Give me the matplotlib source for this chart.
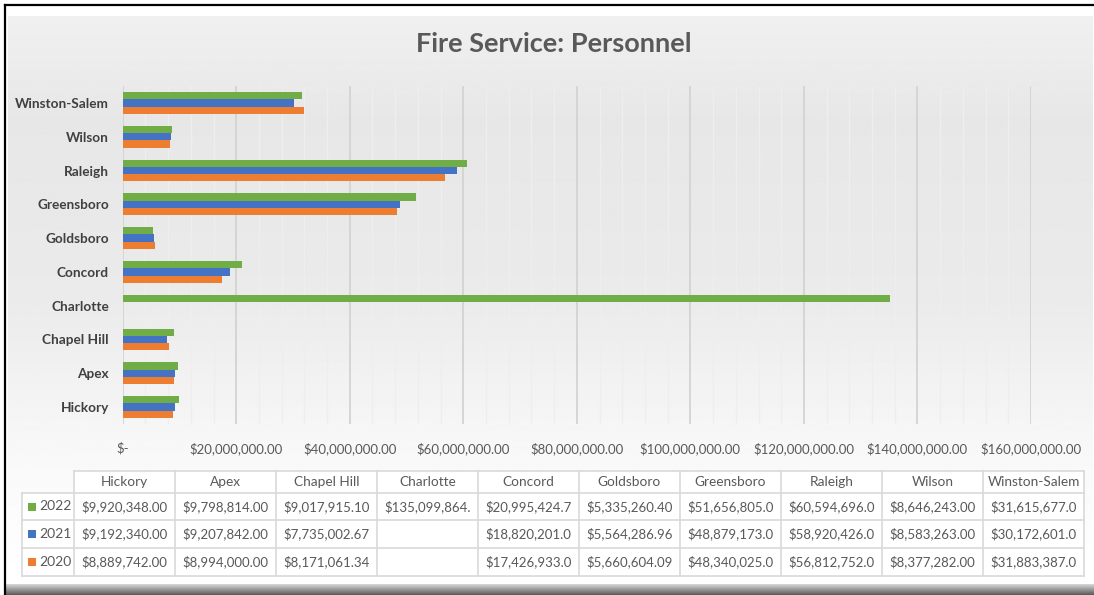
import matplotlib
matplotlib.use("Agg")
import matplotlib.pyplot as plt
import numpy as np
from matplotlib.ticker import MultipleLocator, FuncFormatter
from matplotlib.patches import Rectangle

plt.rcParams["font.family"] = ["Lato", "DejaVu Sans"]

# ====== Data ======
cities = ["Hickory", "Apex", "Chapel Hill", "Charlotte", "Concord",
          "Goldsboro", "Greensboro", "Raleigh", "Wilson", "Winston-Salem"]
years = ["2022", "2021", "2020"]
v2022 = [9920348.00, 9798814.00, 9017915.10, 135099864.00, 20995424.7,
         5335260.40, 51656805.0, 60594696.0, 8646243.00, 31615677.0]
v2021 = [9192340.00, 9207842.00, 7735002.67, None, 18820201.0,
         5564286.96, 48879173.0, 58920426.0, 8583263.00, 30172601.0]
v2020 = [8889742.00, 8994000.00, 8171061.34, None, 17426933.0,
         5660604.09, 48340025.0, 56812752.0, 8377282.00, 31883387.0]
colors = {"2022": "#70AD47", "2021": "#4472C4", "2020": "#ED7D31"}
series = {"2022": v2022, "2021": v2021, "2020": v2020}

W, H = 1094, 595
fig = plt.figure(figsize=(W / 100, H / 100), dpi=100)
fig.patch.set_facecolor("white")

# background layer in pixel coordinates
bg = fig.add_axes([0, 0, 1, 1])
bg.set_xlim(0, W)
bg.set_ylim(H, 0)
bg.axis("off")

# chart area gradient
stops_y = [16, 120, 300, 460, 583]
stops_c = [0.94, 0.905, 0.92, 0.975, 1.0]
ys = np.linspace(16, 583, 300)
grad = np.interp(ys, stops_y, stops_c)[:, None] * np.ones((1, 2))
bg.imshow(grad, cmap="gray", vmin=0, vmax=1, extent=(8, 1093, 583, 16),
          aspect="auto", zorder=0)
# bottom bevel
bev = np.linspace(0.85, 0.35, 40)[:, None] * np.ones((1, 2))
bg.imshow(bev, cmap="gray", vmin=0, vmax=1, extent=(6, 1094, 595, 584),
          aspect="auto", zorder=0)
# frame lines
bg.plot([5, 1094], [5, 5], color="black", lw=1.6, zorder=1)
bg.plot([5, 5], [5, 595], color="black", lw=1.6, zorder=1)

bg.text(554, 44, "Fire Service: Personnel", ha="center", va="center",
        fontsize=19.5, fontweight="bold", color="#595959")

# ====== Bar chart ======
x0, x1, y0, y1 = 122.7, 1031, 86, 424
ax = fig.add_axes([x0 / W, 1 - y1 / H, (x1 - x0) / W, (y1 - y0) / H])
ax.set_facecolor("none")
pos = np.arange(len(cities))
h = 0.215
offsets = {"2022": h, "2021": 0.0, "2020": -h}
for yr in years:
    vals = np.array([np.nan if v is None else v for v in series[yr]])
    ax.barh(pos + offsets[yr], vals, height=h, color=colors[yr], zorder=3)

ax.set_xlim(0, 160e6)
ax.set_ylim(-0.5, len(cities) - 0.5)
ax.xaxis.set_major_locator(MultipleLocator(20e6))
ax.xaxis.set_minor_locator(MultipleLocator(4e6))
ax.xaxis.set_major_formatter(
    FuncFormatter(lambda v, p: "$-" if v == 0 else f"${v:,.2f}"))
ax.grid(axis="x", which="major", color="#d3d3d3", lw=1.3, zorder=1)
ax.grid(axis="x", which="minor", color="#eeeeee", lw=1.0, zorder=1)
ax.set_yticks(pos)
ax.set_yticklabels(cities, fontweight="bold", color="#404040", fontsize=9.8)
ax.tick_params(axis="y", length=0, pad=10)
ax.tick_params(axis="x", which="both", length=0, pad=13, labelsize=9.5,
               labelcolor="#595959")
for s in ax.spines.values():
    s.set_visible(False)

# ====== Data table ======
col_x = [74 + 101 * i for i in range(len(cities) + 1)]
row_y = [471, 493, 520, 548, 576]
lab_x = 22
line_c = "#d9d9d9"
bg.add_patch(Rectangle((col_x[0], row_y[0]), col_x[-1] - col_x[0],
                       row_y[-1] - row_y[0], facecolor="white",
                       edgecolor="none", zorder=2))
bg.add_patch(Rectangle((lab_x, row_y[1]), col_x[0] - lab_x,
                       row_y[-1] - row_y[1], facecolor="white",
                       edgecolor="none", zorder=2))
for x in col_x:
    bg.plot([x, x], [row_y[0], row_y[-1]], color=line_c, lw=1.2, zorder=3)
bg.plot([lab_x, lab_x], [row_y[1], row_y[-1]], color=line_c, lw=1.2, zorder=3)
bg.plot([col_x[0], col_x[-1]], [row_y[0], row_y[0]], color=line_c, lw=1.2,
        zorder=3)
for y in row_y[1:]:
    bg.plot([lab_x, col_x[-1]], [y, y], color=line_c, lw=1.2, zorder=3)

for i, c in enumerate(cities):
    cx = (col_x[i] + col_x[i + 1]) / 2
    bg.text(cx, (row_y[0] + row_y[1]) / 2, c, ha="center", va="center",
            fontsize=9.8, color="#595959", zorder=4)
for r, yr in enumerate(years):
    cy = (row_y[r + 1] + row_y[r + 2]) / 2
    bg.add_patch(Rectangle((28, cy - 4), 8, 8, facecolor=colors[yr],
                           edgecolor="none", zorder=4))
    bg.text(39, cy, yr, ha="left", va="center", fontsize=10,
            color="#595959", zorder=4)
    for i, v in enumerate(series[yr]):
        if v is None:
            continue
        txt = f"${v:,.2f}"[:13]
        cx = (col_x[i] + col_x[i + 1]) / 2
        bg.text(cx, cy, txt, ha="center", va="center", fontsize=9.5,
                color="#595959", zorder=4)

fig.savefig("out.png", dpi=100)
